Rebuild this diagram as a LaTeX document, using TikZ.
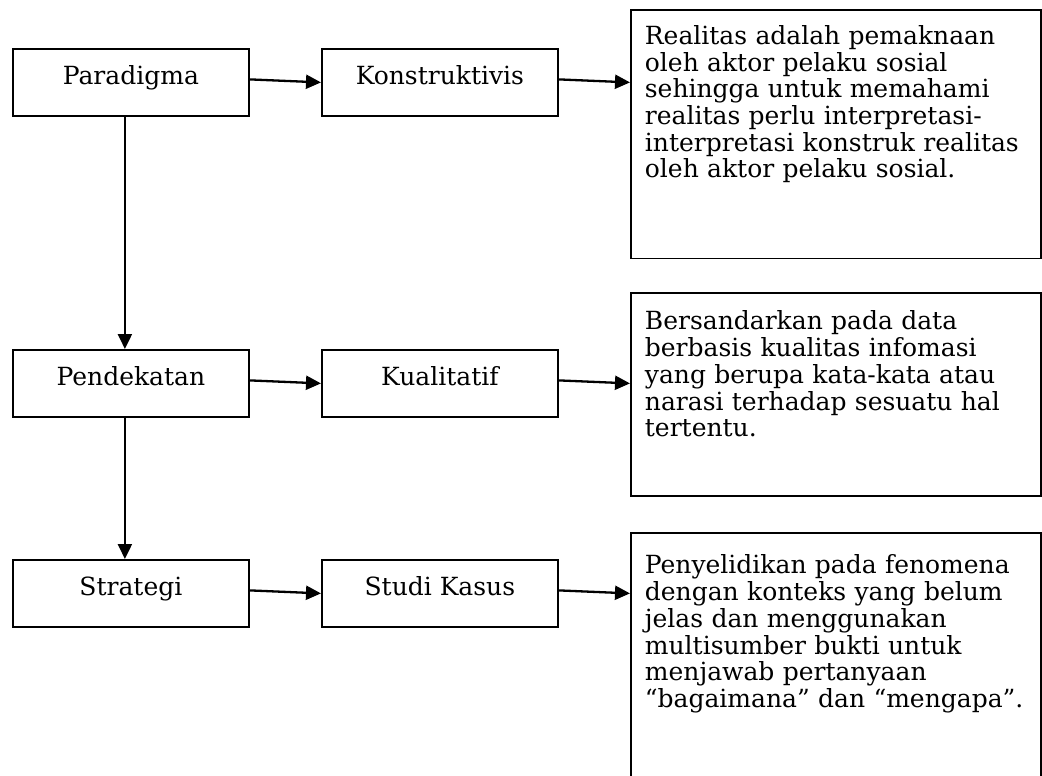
\documentclass[tikz,border=0pt]{standalone}
\usepackage{fontspec}
\setmainfont{DejaVu Serif}
\usetikzlibrary{arrows.meta}

\begin{document}
\begin{tikzpicture}[x=1pt,y=-1pt,
    box/.style={draw,line width=1.8pt,anchor=north west,minimum width=236pt,
      inner sep=0pt,text height=35.5pt,text depth=31.5pt,
      font=\fontsize{25}{26.7}\selectfont},
    infobox/.style={draw,line width=1.8pt,anchor=north west,text width=382pt,
      inner xsep=14pt,inner ysep=0pt,align=left,
      font=\fontsize{25}{26.7}\selectfont},
    link/.style={line width=2.3pt,-{Triangle[length=15pt,width=14pt]}}]
    \path[use as bounding box,clip] (0,0) rectangle (1042,776);
    % left column and middle column
    \node[box] (paradigma) at (12,48) {Paradigma};
    \node[box] (konstruktivis) at (321,48) {Konstruktivis};
    \node[box] (pendekatan) at (12,349) {Pendekatan};
    \node[box] (kualitatif) at (321,349) {Kualitatif};
    \node[box] (strategi) at (12,559) {Strategi};
    \node[box] (studikasus) at (321,559) {Studi Kasus};
    % explanations on the right
    \node[infobox,text height=34pt,text depth=214pt] (realitas) at (630,9.5)
      {Realitas adalah pemaknaan\\ oleh aktor pelaku sosial\\
       sehingga untuk memahami\\ realitas perlu interpretasi-\\
       interpretasi konstruk realitas\\ oleh aktor pelaku sosial.};
    \node[infobox,text height=37pt,text depth=166pt] (bersandar) at (630,292)
      {Bersandarkan pada data\\ berbasis kualitas infomasi\\
       yang berupa kata-kata atau\\ narasi terhadap sesuatu hal\\ tertentu.};
    \node[infobox,text height=41pt,text depth=219pt] (penyelidikan) at (630,532)
      {Penyelidikan pada fenomena\\ dengan konteks yang belum\\
       jelas dan menggunakan\\ multisumber bukti untuk\\
       menjawab pertanyaan\\ “bagaimana” dan “mengapa”.};
    % arrows
    \draw[link] ([yshift=3pt]paradigma.east) -- (konstruktivis.west);
    \draw[link] ([yshift=3pt]konstruktivis.east) -- (konstruktivis.east -| realitas.west);
    \draw[link] ([yshift=3pt]pendekatan.east) -- (kualitatif.west);
    \draw[link] ([yshift=3pt]kualitatif.east) -- (kualitatif.east -| bersandar.west);
    \draw[link] ([yshift=3pt]strategi.east) -- (studikasus.west);
    \draw[link] ([yshift=3pt]studikasus.east) -- (studikasus.east -| penyelidikan.west);
    \draw[link] ([xshift=-6pt]paradigma.south) -- ([xshift=-6pt]pendekatan.north);
    \draw[link] ([xshift=-6pt]pendekatan.south) -- ([xshift=-6pt]strategi.north);
\end{tikzpicture}
\end{document}
